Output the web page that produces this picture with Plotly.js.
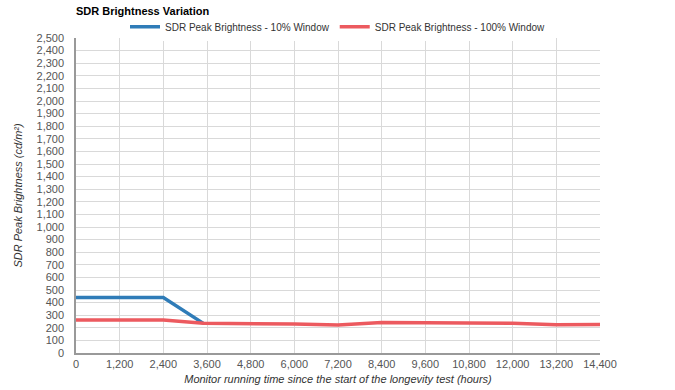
<!DOCTYPE html>
<html><head><meta charset="utf-8">
<script src="https://cdn.plot.ly/plotly-3.0.1.min.js"></script>
<style>body{margin:0;background:#fff}#chart{width:675px;height:390px}</style>
</head><body><div id="chart"></div>
<script>
const hoursBlue = [0, 2400, 3500];
const peak10 = [440, 440, 235];
const hoursRed = [0, 2400, 3500, 4800, 6000, 7200, 8400, 9600, 10800, 12000, 13200, 14400];
const peak100 = [262, 262, 237, 235, 230, 222, 243, 240, 236, 236, 225, 226];
const xTicks = [0,1200,2400,3600,4800,6000,7200,8400,9600,10800,12000,13200,14400];
const yTicks = [];
for (let v = 0; v <= 2500; v += 100) yTicks.push(v);

const data = [
  {x: hoursBlue, y: peak10, name: 'SDR Peak Brightness - 10% Window', mode: 'lines',
   line: {color: '#2f7cb8', width: 3.5}},
  {x: hoursRed, y: peak100, name: 'SDR Peak Brightness - 100% Window', mode: 'lines',
   line: {color: '#ec5a5f', width: 3.5}}
];
const layout = {
  width: 675, height: 390,
  margin: {l: 76, r: 75, t: 38, b: 37},
  paper_bgcolor: '#fff', plot_bgcolor: '#fff',
  font: {family: 'Liberation Sans, Arial, sans-serif', size: 11, color: '#555'},
  title: {text: '<b>SDR Brightness Variation</b>', xref: 'paper', x: 0, xanchor: 'left',
          yref: 'container', y: 1 - 11/390, yanchor: 'middle',
          font: {size: 11, color: '#000'}},
  showlegend: true,
  legend: {orientation: 'h', x: 0.5, xanchor: 'center', y: 0.99, yanchor: 'bottom',
           font: {size: 10, color: '#333'}, itemwidth: 30},
  xaxis: {range: [0, 14400], tickvals: xTicks, ticktext: xTicks.map(v => v.toLocaleString('en-US')),
          showgrid: true, gridcolor: '#d9d9d9', showline: true, linecolor: '#999', linewidth: 1.5,
          zeroline: false, ticks: '', tickfont: {size: 11, color: '#555'},
          title: {text: '<i>Monitor running time since the start of the longevity test (hours)</i>', standoff: 6,
                  font: {size: 11, color: '#333'}}},
  yaxis: {range: [0, 2500], tickvals: yTicks, ticktext: yTicks.map(v => v.toLocaleString('en-US')),
          showgrid: true, gridcolor: '#d9d9d9', showline: true, linecolor: '#999', linewidth: 1.5,
          zeroline: false, ticks: '', ticklabelstandoff: 8, tickfont: {size: 11, color: '#555'},
          title: {text: '<i>SDR Peak Brightness (cd/m²)</i>', standoff: 12, font: {size: 11, color: '#333'}}}
};
Plotly.newPlot('chart', data, layout, {displayModeBar: false});
</script></body></html>
